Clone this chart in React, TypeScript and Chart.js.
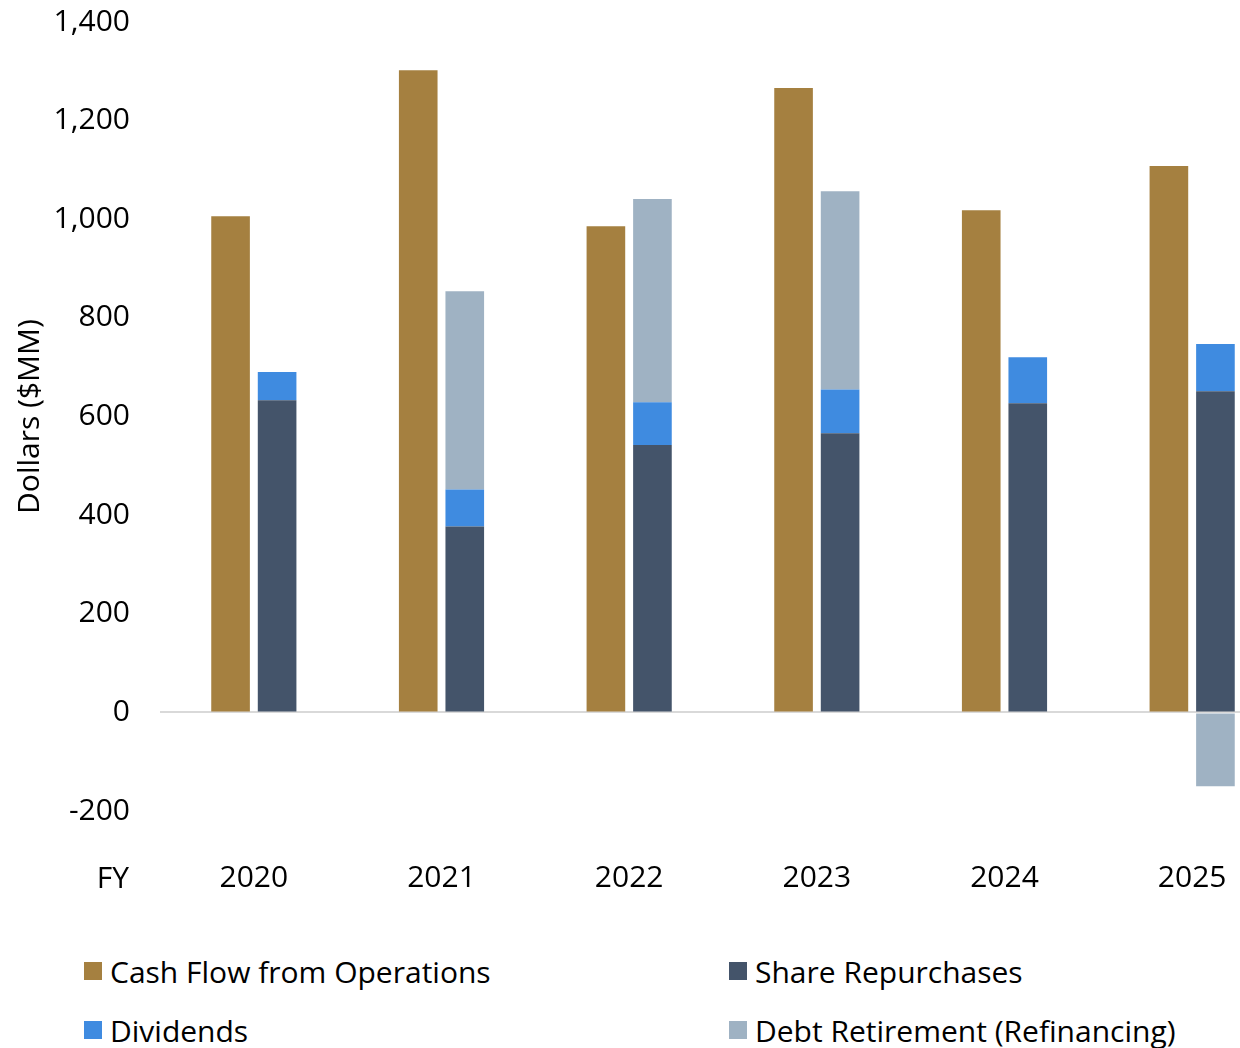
import React, { useEffect, useRef } from "react";
import { Chart, registerables } from "chart.js";

Chart.register(...registerables);

const years = ["2020", "2021", "2022", "2023", "2024", "2025"];
const cashFlowOps = [1006, 1302, 986, 1266, 1018, 1108];
const shareRepurchases = [633, 377, 542, 566, 627, 651];
const dividends = [57, 75, 87, 89, 93, 96];
const debtRetirement = [null, 402, 412, 402, null, -150];
const yTicks = [-200, 0, 200, 400, 600, 800, 1000, 1200, 1400];

const FONT = "'Open Sans', sans-serif";
const FS = 30;
const COLORS = {
  cfo: "#A58040",
  sr: "#44546A",
  div: "#3F8BE0",
  debt: "#9FB2C3",
};

const legendItems = [
  { label: "Cash Flow from Operations", color: COLORS.cfo, x: 84, y: 971 },
  { label: "Share Repurchases", color: COLORS.sr, x: 729, y: 971 },
  { label: "Dividends", color: COLORS.div, x: 84, y: 1030 },
  { label: "Debt Retirement (Refinancing)", color: COLORS.debt, x: 729, y: 1030 },
];

const fyPlugin = {
  id: "fyLabel",
  afterDraw(chart: any) {
    const ctx = chart.ctx;
    ctx.save();
    ctx.font = `${FS}px ${FONT}`;
    ctx.fillStyle = "#000";
    ctx.textAlign = "right";
    ctx.textBaseline = "middle";
    ctx.fillText("FY", 129, chart.chartArea.bottom + 68);
    ctx.restore();
  },
};

export default function App() {
  const ref = useRef<HTMLCanvasElement>(null);
  useEffect(() => {
    if (!ref.current) return;
    const chart = new Chart(ref.current, {
      type: "bar",
      data: {
        labels: years,
        datasets: [
          { label: "Cash Flow from Operations", data: cashFlowOps, backgroundColor: COLORS.cfo, stack: "a" },
          { label: "Share Repurchases", data: shareRepurchases, backgroundColor: COLORS.sr, stack: "b" },
          { label: "Dividends", data: dividends, backgroundColor: COLORS.div, stack: "b" },
          { label: "Debt Retirement (Refinancing)", data: debtRetirement as any, backgroundColor: COLORS.debt, stack: "b" },
        ],
      },
      options: {
        animation: false,
        responsive: false,
        maintainAspectRatio: false,
        layout: { padding: { top: 22, right: 14, left: 0, bottom: 0 } },
        datasets: { bar: { barPercentage: 0.83, categoryPercentage: 0.496 } },
        plugins: { legend: { display: false }, tooltip: { enabled: false } },
        scales: {
          x: {
            stacked: true,
            grid: { display: false, drawTicks: false },
            border: { display: false },
            ticks: { color: "#000", font: { family: FONT, size: FS }, padding: 49, maxRotation: 0 },
            afterFit: (s: any) => { s.height = 109; },
          },
          y: {
            stacked: true,
            min: -200,
            max: 1400,
            afterBuildTicks: (s: any) => { s.ticks = yTicks.map((v) => ({ value: v })); },
            ticks: { color: "#000", font: { family: FONT, size: FS }, padding: 30 },
            grid: {
              drawTicks: false,
              lineWidth: 2,
              color: (c: any) => (c.tick && c.tick.value === 0 ? "#d9d9d9" : "rgba(0,0,0,0)"),
            },
            border: { display: false },
            title: { display: true, text: "Dollars ($MM)", color: "#000", font: { family: FONT, size: FS }, padding: { top: 12, bottom: 0 } },
            afterFit: (s: any) => { s.width = 160; s.paddingTop = 0; s.paddingBottom = 0; },
          },
        },
      },
      plugins: [fyPlugin],
    });
    return () => chart.destroy();
  }, []);

  return (
    <div style={{ position: "fixed", left: 0, top: 0, width: 1240, height: 1048, overflow: "hidden", background: "#fff" }}>
      <canvas ref={ref} width={1300} height={920} style={{ position: "absolute", left: 0, top: 0, width: 1300, height: 920 }} />
      {legendItems.map((it) => (
        <div key={it.label} style={{ position: "absolute", left: it.x, top: it.y - 21, height: 42, display: "flex", alignItems: "center", fontFamily: FONT, fontSize: FS, color: "#000", whiteSpace: "nowrap" }}>
          <span style={{ display: "inline-block", width: 18, height: 18, background: it.color, marginRight: 8 }} />
          {it.label}
        </div>
      ))}
    </div>
  );
}
